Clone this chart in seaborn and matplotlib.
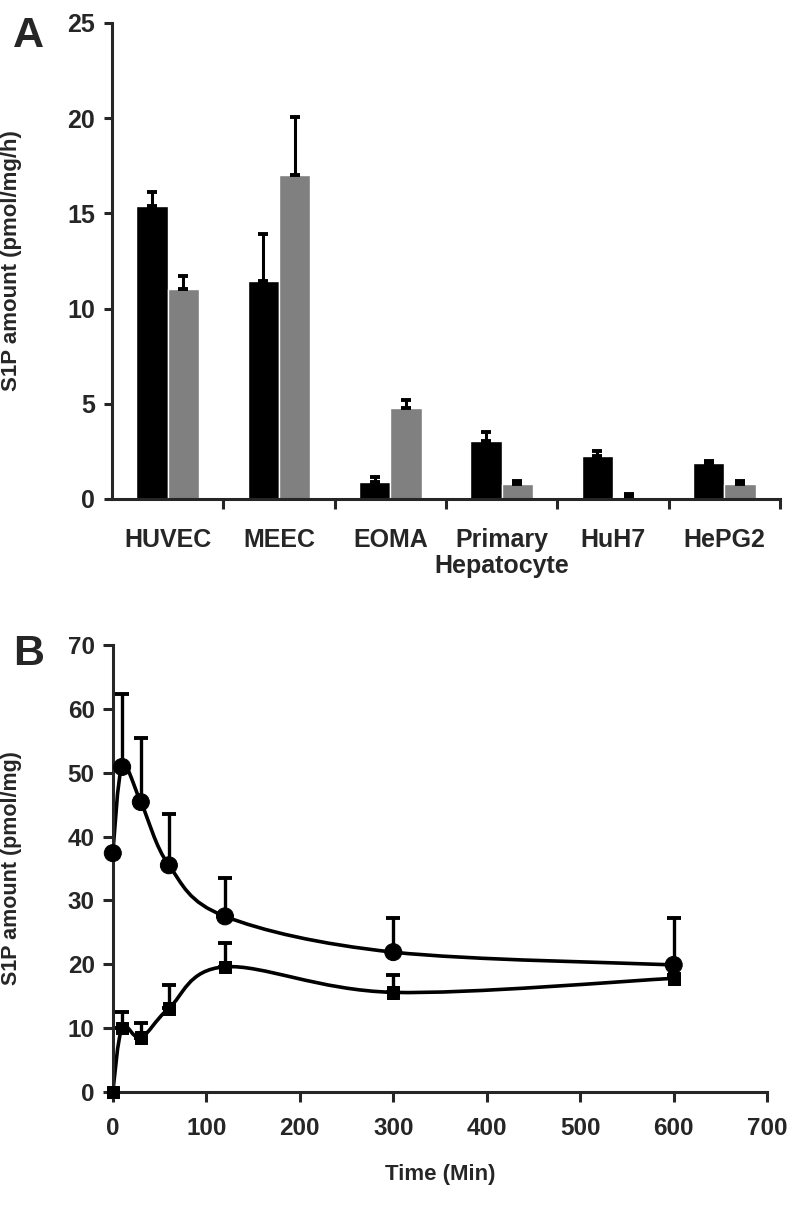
import numpy as np
import pandas as pd
import matplotlib
matplotlib.use("Agg")
import matplotlib.pyplot as plt
from matplotlib.path import Path
from matplotlib.patches import PathPatch
import seaborn as sns

# panel A data
cells = ["HUVEC", "MEEC", "EOMA", "Primary\nHepatocyte", "HuH7", "HePG2"]
black_vals = [15.4, 11.45, 0.9, 3.05, 2.25, 1.9]
black_err = [0.7, 2.45, 0.25, 0.45, 0.25, 0.1]
gray_vals = [11.05, 17.0, 4.8, 0.8, 0.1, 0.8]
gray_err = [0.65, 3.05, 0.4, 0.15, 0.15, 0.15]

# panel B data
times = [0, 10, 30, 60, 120, 300, 600]
circle_vals = [37.4, 50.9, 45.4, 35.5, 27.5, 21.9, 19.9]
circle_err = [0, 11.5, 10.0, 8.0, 6.0, 5.3, 7.3]
square_vals = [0, 10.0, 8.5, 13.1, 19.6, 15.6, 17.8]
square_err = [0, 2.6, 2.3, 3.7, 3.7, 2.7, 0.5]

sns.set_style("ticks")
plt.rcParams["font.family"] = ["Liberation Sans", "DejaVu Sans"]
plt.rcParams["font.weight"] = "bold"
plt.rcParams["axes.linewidth"] = 2.2

fig = plt.figure(figsize=(8, 12.22), dpi=100)

# ---------------- panel A ----------------
axA = fig.add_axes([0.14, 0.5917, 0.835, 0.3895])
dfA = pd.DataFrame({
    "cell": cells * 2,
    "value": black_vals + gray_vals,
    "group": ["s1"] * len(cells) + ["s2"] * len(cells),
})
sns.barplot(data=dfA, x="cell", y="value", hue="group", order=cells,
            palette=["#000000", "#808080"], width=0.56, gap=0,
            saturation=1, errorbar=None, legend=False, ax=axA)

errs = black_err + gray_err
for p, e in zip(axA.patches, errs):
    xc = p.get_x() + p.get_width() / 2
    h = p.get_height()
    axA.errorbar(xc, h, yerr=[[0], [e]], fmt="none", ecolor="black",
                 elinewidth=2.2, capsize=3.5, capthick=2.8)

axA.set_xlim(-0.5, len(cells) - 0.5)
axA.set_ylim(0, 25)
axA.set_yticks(range(0, 26, 5))
axA.set_xticks(range(len(cells)))
axA.set_xticklabels(cells, fontsize=18, fontweight="bold", linespacing=1.1)
axA.set_xticks(np.arange(0.5, len(cells), 1), minor=True)
axA.tick_params(axis="x", which="major", length=0, pad=21)
axA.tick_params(axis="x", which="minor", length=7, width=2.2, direction="out")
axA.tick_params(axis="y", length=6, width=2.2, pad=6, labelsize=18)
axA.set_xlabel("")
axA.set_ylabel("S1P amount (pmol/mg/h)", fontsize=16, fontweight="bold")
axA.yaxis.set_label_coords(-0.135, 0.5)
for lab in axA.get_yticklabels():
    lab.set_fontweight("bold")
sns.despine(ax=axA)

# ---------------- panel B ----------------
axB = fig.add_axes([0.141, 0.1064, 0.818, 0.3658])
axB.set_xlim(0, 700)
axB.set_ylim(0, 70)

dfB = pd.DataFrame({
    "time": times * 2,
    "value": circle_vals + square_vals,
    "series": ["circle"] * len(times) + ["square"] * len(times),
})


def smooth_path(xs, ys, ax):
    # Catmull-Rom style smoothed line, computed in screen-like units
    w, h = 654.0, 447.0
    x0, x1 = ax.get_xlim()
    y0, y1 = ax.get_ylim()
    u = (np.asarray(xs, float) - x0) / (x1 - x0) * w
    v = (np.asarray(ys, float) - y0) / (y1 - y0) * h
    pts = np.column_stack([u, v])
    n = len(pts)
    verts = [pts[0]]
    codes = [Path.MOVETO]
    for i in range(n - 1):
        p0 = pts[i - 1] if i > 0 else pts[i]
        p1 = pts[i]
        p2 = pts[i + 1]
        p3 = pts[i + 2] if i + 2 < n else pts[i + 1]
        c1 = p1 + (p2 - p0) / 6.0
        c2 = p2 - (p3 - p1) / 6.0
        verts += [c1, c2, p2]
        codes += [Path.CURVE4] * 3
    verts = np.array(verts)
    verts[:, 0] = verts[:, 0] / w * (x1 - x0) + x0
    verts[:, 1] = verts[:, 1] / h * (y1 - y0) + y0
    return Path(verts, codes)


for vals, errv in [(circle_vals, circle_err), (square_vals, square_err)]:
    axB.add_patch(PathPatch(smooth_path(times, vals, axB), facecolor="none",
                            edgecolor="black", lw=2.6, zorder=2))
    axB.errorbar(times, vals, yerr=[np.zeros(len(errv)), errv], fmt="none",
                 ecolor="black", elinewidth=2.4, capsize=5, capthick=2.8,
                 zorder=3)

sns.scatterplot(data=dfB, x="time", y="value", style="series",
                markers={"circle": "o", "square": "s"},
                size="series", sizes={"circle": 150, "square": 80},
                color="black", edgecolor="black", legend=False, zorder=4,
                clip_on=False, ax=axB)

axB.set_xlim(0, 700)
axB.set_ylim(0, 70)
axB.set_xticks(range(0, 701, 100))
axB.set_yticks(range(0, 71, 10))
axB.tick_params(axis="both", length=7, width=2.2, labelsize=17.5)
axB.tick_params(axis="x", pad=11)
axB.tick_params(axis="y", pad=6)
for lab in axB.get_xticklabels() + axB.get_yticklabels():
    lab.set_fontweight("bold")
axB.set_xlabel("Time (Min)", fontsize=16, fontweight="bold")
axB.xaxis.set_label_coords(0.5, -0.16)
axB.set_ylabel("S1P amount (pmol/mg)", fontsize=15.5, fontweight="bold")
axB.yaxis.set_label_coords(-0.139, 0.5)
sns.despine(ax=axB)

fig.text(0.016, 0.9615, "A", fontsize=31, fontweight="bold")
fig.text(0.016, 0.4558, "B", fontsize=31, fontweight="bold")

fig.savefig("out.png", dpi=100)
